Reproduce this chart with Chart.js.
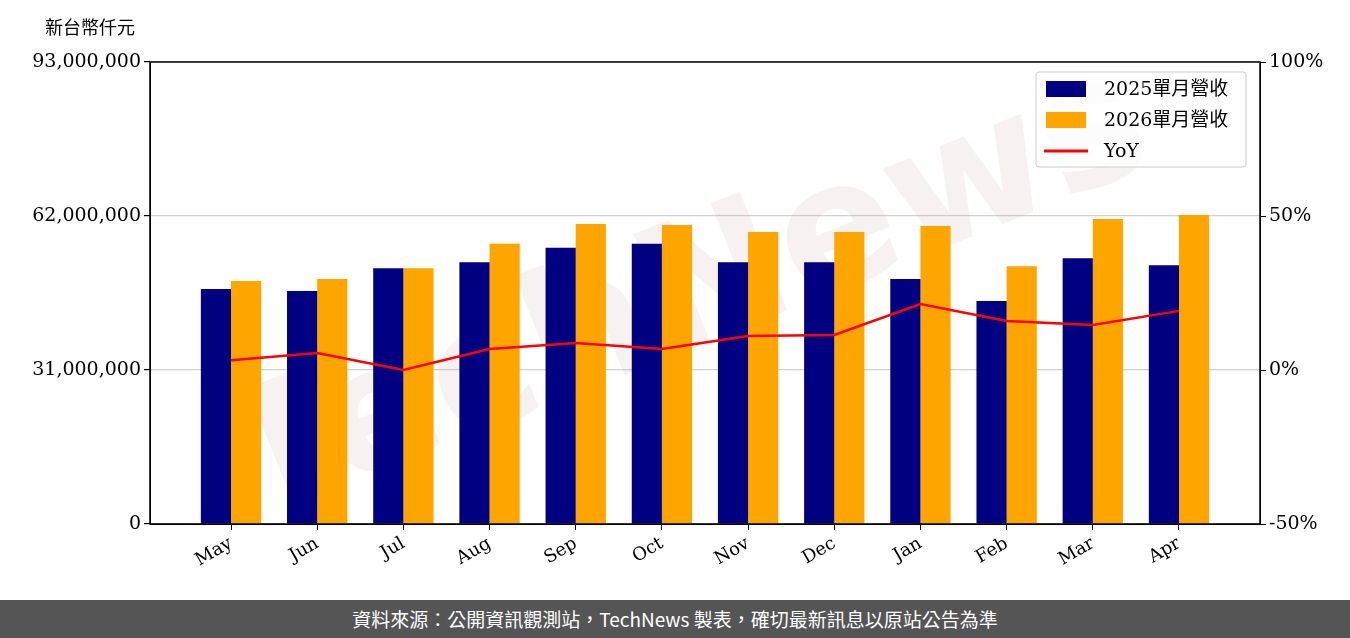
<!DOCTYPE html>
<html lang="zh-Hant">
<head>
<meta charset="UTF-8" />
<title>營收</title>
<script src="https://cdn.jsdelivr.net/npm/chart.js"></script>
<style>
  body { margin: 0; background: #fff; width: 1350px; height: 638px; overflow: hidden; }
  #wrap { position: relative; width: 1350px; height: 600px; }
  #footer { height: 38px; background: #555; color: #fff; font: 19px "Noto Sans CJK TC", "Noto Sans", sans-serif; text-align: center; line-height: 38px; }
</style>
</head>
<body>
<div id="wrap"><canvas id="c" width="1350" height="600"></canvas></div>
<div id="footer">資料來源：公開資訊觀測站，TechNews 製表，確切最新訊息以原站公告為準</div>
<script>
const months = ['May','Jun','Jul','Aug','Sep','Oct','Nov','Dec','Jan','Feb','Mar','Apr'];
const rev2025 = [47300000,46900000,51500000,52700000,55600000,56400000,52700000,52700000,49300000,44900000,53500000,52100000];
const rev2026 = [48900000,49300000,51500000,56400000,60400000,60200000,58800000,58800000,60000000,51900000,61400000,62200000];
const yoy = [3.2,5.5,0.0,6.8,8.8,6.8,11.0,11.4,21.4,15.9,14.6,19.2];
const leftTicks = [0,31000000,62000000,93000000];
const rightTicks = [-50,0,50,100];

const FONT = '"DejaVu Serif", "Noto Sans CJK TC", serif';
const pts = arr => arr.map((v, i) => ({ x: i, y: v }));

const extras = {
  id: 'extras',
  beforeDatasetsDraw(chart) {
    const c = chart.ctx;
    c.save();
    c.translate(690, 300);
    c.rotate(-0.38);
    c.font = 'bold 175px "DejaVu Sans", sans-serif';
    c.fillStyle = 'rgba(200,150,150,0.13)';
    c.textAlign = 'center';
    c.textBaseline = 'middle';
    c.fillText('TechNews', 0, 0);
    c.restore();
  },
  afterDraw(chart) {
    const c = chart.ctx;
    const a = chart.chartArea;
    c.save();
    c.strokeStyle = '#000'; c.lineWidth = 1.5;
    c.strokeRect(a.left, a.top, a.right - a.left, a.bottom - a.top);
    c.font = '18px "Noto Sans CJK TC", sans-serif';
    c.fillStyle = '#000';
    c.textBaseline = 'middle';
    c.fillText('新台幣仟元', 45, 27);
    // legend
    const lx = 1036, ly = 72, lw = 210, lh = 95;
    c.fillStyle = 'rgba(255,255,255,0.85)';
    c.strokeStyle = '#ccc'; c.lineWidth = 1;
    c.beginPath(); c.roundRect(lx, ly, lw, lh, 3); c.fill(); c.stroke();
    c.font = '19px ' + FONT;
    const items = chart.data.datasets;
    [1, 2, 0].forEach((di, i) => {
      const ds = items[di];
      const y = ly + 17 + i * 31;
      if (ds.type === 'line') {
        c.strokeStyle = ds.borderColor; c.lineWidth = 3;
        c.beginPath(); c.moveTo(lx + 8, y); c.lineTo(lx + 52, y); c.stroke();
      } else {
        c.fillStyle = ds.backgroundColor;
        c.fillRect(lx + 10, y - 8, 40, 16);
      }
      c.fillStyle = '#000';
      c.fillText(ds.label, lx + 68, y + 1);
    });
    c.restore();
  }
};

new Chart(document.getElementById('c'), {
  data: {
    datasets: [
      { type: 'line', label: 'YoY', data: pts(yoy), yAxisID: 'y2', borderColor: '#ff0000', borderWidth: 2.5, pointRadius: 0, tension: 0, order: 0 },
      { type: 'bar', label: '2025單月營收', data: pts(rev2025), yAxisID: 'y', backgroundColor: '#000080', order: 1 },
      { type: 'bar', label: '2026單月營收', data: pts(rev2026), yAxisID: 'y', backgroundColor: '#ffa500', order: 1 }
    ]
  },
  options: {
    responsive: false,
    animation: false,
    layout: { padding: { top: 62, left: 0, right: 0 } },
    datasets: { bar: { categoryPercentage: 0.7, barPercentage: 1.0 } },
    plugins: { legend: { display: false }, tooltip: { enabled: false } },
    scales: {
      x: {
        type: 'linear', min: -0.94, max: 11.94, offset: false,
        afterBuildTicks(s) { s.ticks = months.map((m, i) => ({ value: i })); },
        grid: { offset: false, drawOnChartArea: false, tickColor: '#000', tickLength: 6 },
        border: { color: '#000' },
        ticks: { color: '#000', font: { family: FONT, size: 18 }, maxRotation: 30, minRotation: 30, callback: v => months[v] },
        afterFit(s) { s.height = 76; }
      },
      y: {
        position: 'left', min: 0, max: 93000000,
        afterBuildTicks(s) { s.ticks = leftTicks.map(v => ({ value: v })); },
        grid: { color: '#d0d0d0', lineWidth: 1.2, tickColor: '#000', tickLength: 6 },
        border: { color: '#000' },
        ticks: { color: '#000', font: { family: FONT, size: 19 }, callback: v => v.toLocaleString('en-US') },
        afterFit(s) { s.width = 150; }
      },
      y2: {
        position: 'right', min: -50, max: 100,
        afterBuildTicks(s) { s.ticks = rightTicks.map(v => ({ value: v })); },
        grid: { drawOnChartArea: false, tickColor: '#000', tickLength: 6 },
        border: { color: '#000' },
        ticks: { color: '#000', font: { family: FONT, size: 19 }, callback: v => v + '%' },
        afterFit(s) { s.width = 90; }
      }
    }
  },
  plugins: [extras]
});
</script>
</body>
</html>
